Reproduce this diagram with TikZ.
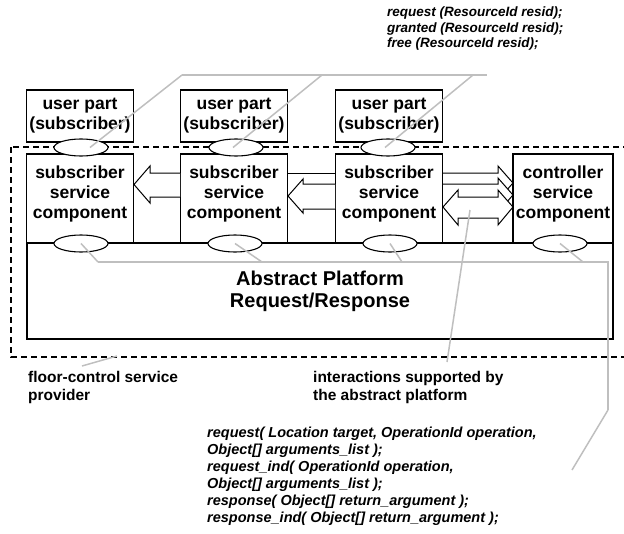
\documentclass[tikz,border=0pt]{standalone}
\usepackage{fontspec}
\setmainfont{Liberation Sans}
\usetikzlibrary{shapes.geometric}
\tikzset{
  part/.style={draw, line width=1.1pt, fill=white, minimum width=107pt, align=center,
    inner sep=0pt, font=\bfseries\fontsize{17.5}{20}\selectfont},
  port/.style={draw, ellipse, line width=1.1pt, fill=white, minimum width=54pt,
    minimum height=17pt, inner sep=0pt},
  hollow/.style={draw, line width=1pt, fill=white, line join=miter},
  wire/.style={draw=black!25, line width=1.5pt},
  bus/.style={draw=black!25, line width=2.2pt},
  note/.style={align=left, inner sep=0pt, anchor=north west},
}
\begin{document}
\begin{tikzpicture}[x=1pt, y=-1pt]
\useasboundingbox (0,0) rectangle (624,533);
% operations of the floor-control service
\node[note, font=\bfseries\itshape\fontsize{13.5}{15.5}\selectfont] (ops) at (387,7)
  {request (ResourceId resid);\\granted (ResourceId resid);\\free (ResourceId resid);};
% service provider boundary
\draw[dash pattern=on 6pt off 4pt, line width=1.3pt] (11,147) rectangle (630,357);
% user parts
\node[part, minimum height=52pt] (up1) at (80,116) {user part\\(subscriber)};
\node[part, minimum height=52pt] (up2) at (234,116) {user part\\(subscriber)};
\node[part, minimum height=52pt] (up3) at (389,116) {user part\\(subscriber)};
% service components
\node[part, minimum height=89pt] (sc1) at (80,198.5) {};
\node[part, minimum height=89pt] (sc2) at (234,198.5) {};
\node[part, minimum height=89pt] (sc3) at (389,198.5) {};
\node[part, minimum height=89pt, minimum width=100pt] (cc) at (563,198.5) {};
\node[part, draw=none, fill=none] (sc1t) at ([yshift=4.5pt]sc1.center) {subscriber\\service\\component};
\node[part, draw=none, fill=none] (sc2t) at ([yshift=4.5pt]sc2.center) {subscriber\\service\\component};
\node[part, draw=none, fill=none] (sc3t) at ([yshift=4.5pt]sc3.center) {subscriber\\service\\component};
\node[part, draw=none, fill=none] (cct) at ([yshift=4.5pt]cc.center) {controller\\service\\component};
% abstract platform
\node[part, minimum width=586pt, minimum height=96pt,
  font=\bfseries\fontsize{20}{22}\selectfont] (plat) at (320,291) {Abstract Platform\\Request/Response};
% interactions
\draw[hollow] (180,173) -- (150,173) -- (150,166) -- (134,184.5) -- (150,203) -- (150,197) -- (180,197);
\draw[line width=1pt] (288,173) -- (335,173);
\draw[hollow] (335,184) -- (303,184) -- (303,179) -- (288,196) -- (303,213) -- (303,209) -- (335,209);
\draw[hollow] (443,173) -- (498,173) -- (498,166) -- (513,183) -- (498,200) -- (498,190) -- (443,190);
\draw[hollow] (443,184) -- (498,184) -- (498,178) -- (513,195) -- (498,212) -- (498,205) -- (458,205) -- (443,207);
\draw[hollow] (458,197) -- (498,197) -- (498,190) -- (513,207) -- (498,225) -- (498,218)
  -- (458,218) -- (458,225) -- (443,207) -- (458,190) -- cycle;
\coordinate (dmid) at (470,210);
% ports
\node[port] (ut1) at (81,147.5) {};
\node[port] (ut2) at (236,147.5) {};
\node[port] (ut3) at (388,147.5) {};
\node[port] (pb1) at (81,243.5) {};
\node[port] (pb2) at (235,243.5) {};
\node[port] (pb3) at (390,243.5) {};
\node[port] (pb4) at (560,243.5) {};
% notes
\node[note, font=\bfseries\fontsize{15.5}{18.5}\selectfont] (prov) at (28,371)
  {floor-control service\\provider};
\node[note, font=\bfseries\fontsize{15.5}{18.5}\selectfont] (supp) at (313,371)
  {interactions supported by\\the abstract platform};
\node[note, font=\bfseries\itshape\fontsize{14.5}{17}\selectfont] (prim) at (207,426.5)
  {request( Location target, OperationId operation,\\Object[] arguments\_list );\\
   request\_ind( OperationId operation,\\Object[] arguments\_list );\\
   response( Object[] return\_argument );\\response\_ind( Object[] return\_argument );};
% references
\coordinate (t1) at (182,75);
\coordinate (t2) at (322,75);
\coordinate (t3) at (473,75);
\coordinate (t4) at (487,75);
\draw[bus] (t1) -- (t4);
\draw[wire] (t1) -- ([xshift=9pt]ut1.center);
\draw[wire] (t2) -- ([xshift=-3pt]ut2.center);
\draw[wire] (t3) -- ([xshift=-3pt]ut3.center);
\coordinate (k1) at (98,262);
\coordinate (k2) at (262,262);
\coordinate (k3) at (402,262);
\coordinate (k4) at (583,262);
\coordinate (k5) at (608,262);
\coordinate (k6) at (608,410);
\coordinate (k7) at (572,470);
\draw[bus, line join=miter] (k1) -- (k5) -- (k6);
\draw[wire] (pb1.center) -- (k1);
\draw[wire] (pb2.center) -- (k2);
\draw[wire] (pb3.center) -- (k3);
\draw[wire] (pb4.center) -- (k4);
\draw[wire] (k6) -- (k7);
\coordinate (f1) at (82,366);
\coordinate (f2) at (117,356);
\draw[wire] (f1) -- (f2);
\coordinate (s1) at (447,362);
\draw[wire] (s1) -- (dmid);
\end{tikzpicture}
\end{document}
